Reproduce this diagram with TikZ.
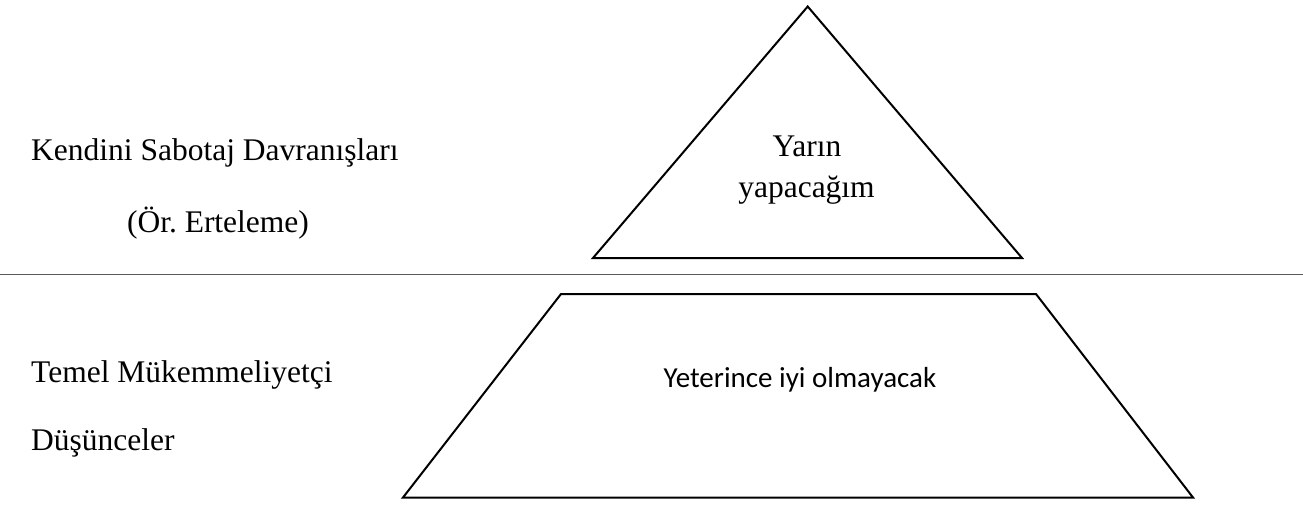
\documentclass[tikz,border=0pt]{standalone}
\usepackage{fontspec}
\setmainfont{Liberation Serif}
\newfontfamily\calfont{Carlito}
\frenchspacing
\begin{document}
\begin{tikzpicture}[x=1pt,y=-1pt,
  lbl/.style={inner sep=0pt,font=\fontsize{31.5}{37}\selectfont},
  sanslbl/.style={inner sep=0pt,font=\calfont\fontsize{29}{34}\selectfont},
  shapeline/.style={draw=black,line width=2pt,line join=miter},
  divider/.style={draw=black!65,line width=1.2pt}]
\useasboundingbox (0,0) rectangle (1303,505);
% shapes
\coordinate (tA) at (807.7,6.5);
\coordinate (tL) at (593,258);
\coordinate (tR) at (1022,258);
\draw[shapeline] (tA) -- (tL) -- (tR) -- cycle;
\coordinate (dL) at (0,274.5);
\coordinate (dR) at (1303,274.5);
\draw[divider] (dL) -- (dR);
\coordinate (pTL) at (561,294);
\coordinate (pTR) at (1036,294);
\coordinate (pBR) at (1193,497.5);
\coordinate (pBL) at (403,497.5);
\draw[shapeline] (pTL) -- (pTR) -- (pBR) -- (pBL) -- cycle;
% texts
\node[lbl,anchor=base west] (k1) at (31,161) {Kendini Sabotaj Davranışları};
\node[lbl,anchor=base] (k2) at (218,232) {(Ör. Erteleme)};
\node[lbl,anchor=base west] (m1) at (31,382) {Temel Mükemmeliyetçi};
\node[lbl,anchor=base west] (m2) at (31,450) {Düşünceler};
\node[lbl,anchor=base] (y1) at (807,157) {Yarın};
\node[lbl,anchor=base] (y2) at (806.5,197) {yapacağım};
\node[sanslbl,anchor=base] (y3) at (800,387) {Yeterince iyi olmayacak};
\end{tikzpicture}
\end{document}
